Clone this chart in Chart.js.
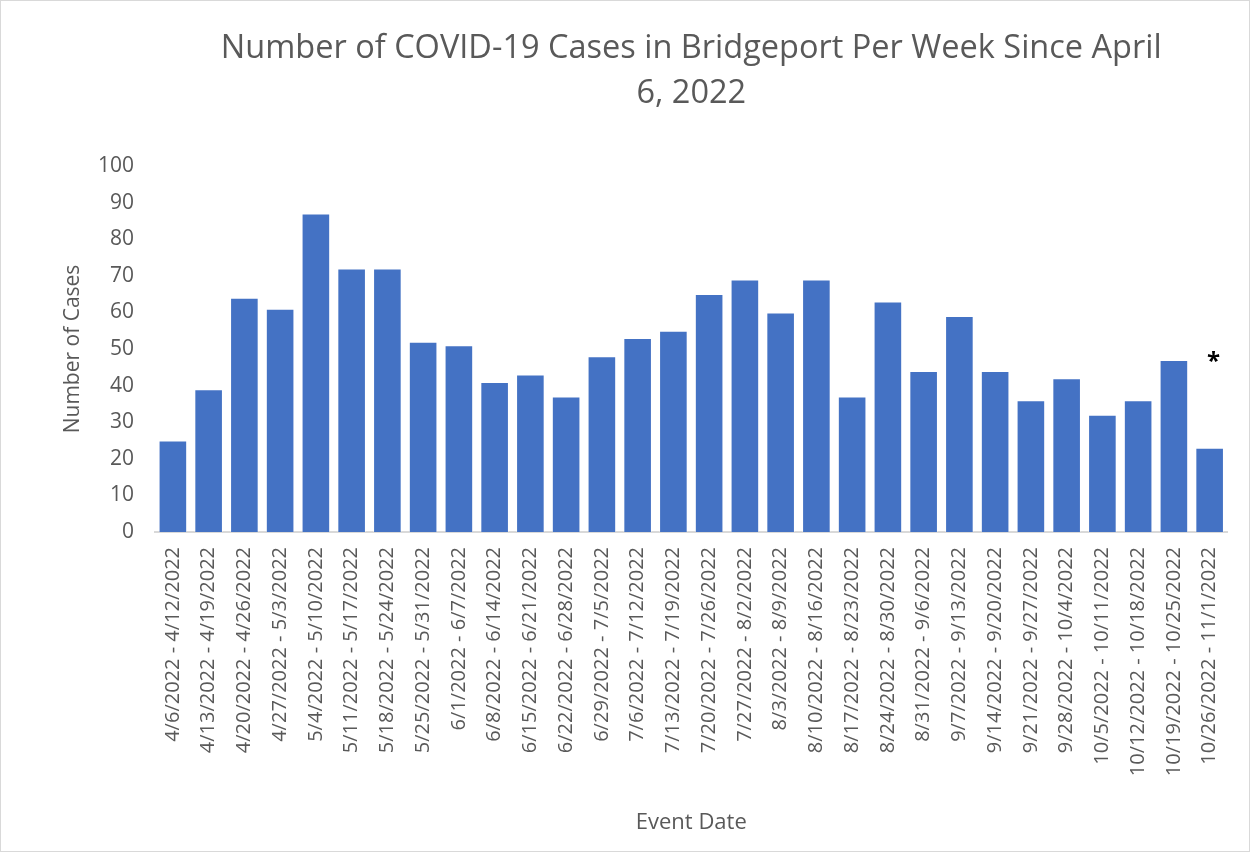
<!DOCTYPE html>
<html>
<head>
<meta charset="utf-8">
<script src="https://cdn.jsdelivr.net/npm/chart.js@4/dist/chart.umd.min.js"></script>
<style>
  html, body { margin: 0; padding: 0; background: #ffffff; }
  #wrap { width: 1250px; height: 852px; box-sizing: border-box; border: 1px solid #d9d9d9; background: #fff; }
  #wrap canvas { display: block; }
</style>
</head>
<body>
<div id="wrap"><canvas id="c" width="1248" height="850"></canvas></div>
<script>
const chartTitle = ["Number of COVID-19 Cases in Bridgeport Per Week Since April", "6, 2022"];
const xAxisTitle = "Event Date";
const yAxisTitle = "Number of Cases";

const weeks = [
  "4/6/2022 - 4/12/2022", "4/13/2022 - 4/19/2022", "4/20/2022 - 4/26/2022", "4/27/2022 - 5/3/2022",
  "5/4/2022 - 5/10/2022", "5/11/2022 - 5/17/2022", "5/18/2022 - 5/24/2022", "5/25/2022 - 5/31/2022",
  "6/1/2022 - 6/7/2022", "6/8/2022 - 6/14/2022", "6/15/2022 - 6/21/2022", "6/22/2022 - 6/28/2022",
  "6/29/2022 - 7/5/2022", "7/6/2022 - 7/12/2022", "7/13/2022 - 7/19/2022", "7/20/2022 - 7/26/2022",
  "7/27/2022 - 8/2/2022", "8/3/2022 - 8/9/2022", "8/10/2022 - 8/16/2022", "8/17/2022 - 8/23/2022",
  "8/24/2022 - 8/30/2022", "8/31/2022 - 9/6/2022", "9/7/2022 - 9/13/2022", "9/14/2022 - 9/20/2022",
  "9/21/2022 - 9/27/2022", "9/28/2022 - 10/4/2022", "10/5/2022 - 10/11/2022", "10/12/2022 - 10/18/2022",
  "10/19/2022 - 10/25/2022", "10/26/2022 - 11/1/2022"
];

const cases = [
  25, 39, 64, 61, 87, 72, 72, 52, 51, 41,
  43, 37, 48, 53, 55, 65, 69, 60, 69, 37,
  63, 44, 59, 44, 36, 42, 32, 36, 47, 23
];

// footnote marker shown above the last (incomplete) week
const noteMarks = ["", "", "", "", "", "", "", "", "", "", "", "", "", "", "", "", "", "", "", "", "", "", "", "", "", "", "", "", "", "*"];
const noteLevel = 48;

const yMin = 0;
const yMax = 100;
const yStep = 10;

const TEXT = "#595959";
const FONT = "'Open Sans', 'DejaVu Sans', sans-serif";

const notePlugin = {
  id: "noteMarks",
  afterDatasetsDraw(chart) {
    const ctx = chart.ctx;
    const meta = chart.getDatasetMeta(0);
    const y = chart.scales.y.getPixelForValue(noteLevel);
    ctx.save();
    ctx.fillStyle = "#000000";
    ctx.font = "bold 24px " + FONT;
    ctx.textAlign = "center";
    ctx.textBaseline = "alphabetic";
    noteMarks.forEach((m, i) => {
      if (!m) return;
      const mm = ctx.measureText(m);
      const off = (mm.actualBoundingBoxAscent - mm.actualBoundingBoxDescent) / 2;
      ctx.fillText(m, meta.data[i].x + 4, y + off);
    });
    ctx.restore();
  }
};

new Chart(document.getElementById("c"), {
  type: "bar",
  data: {
    labels: weeks,
    datasets: [{
      data: cases,
      backgroundColor: "#4472c4",
      borderColor: "rgba(255,255,255,0.35)",
      borderWidth: 1,
      categoryPercentage: 1.0,
      barPercentage: 0.8
    }]
  },
  options: {
    responsive: false,
    animation: false,
    events: [],
    layout: { padding: { left: 0, right: 18, top: 0, bottom: 0 } },
    plugins: {
      legend: { display: false },
      tooltip: { enabled: false },
      title: {
        display: true,
        text: chartTitle,
        fullSize: false,
        color: TEXT,
        font: { family: FONT, size: 32.5, weight: "normal", lineHeight: 1.384 },
        padding: { top: 25, bottom: 50 }
      }
    },
    scales: {
      x: {
        grid: { display: false, drawTicks: false },
        border: { display: true, color: "#d9d9d9", width: 2 },
        ticks: {
          autoSkip: false,
          minRotation: 90,
          maxRotation: 90,
          padding: 15,
          color: TEXT,
          font: { family: FONT, size: 20 }
        },
        title: {
          display: true,
          text: xAxisTitle,
          color: TEXT,
          font: { family: FONT, size: 22 },
          padding: { top: 0, bottom: 15 }
        },
        afterFit(scale) { scale.height = 319; }
      },
      y: {
        min: yMin,
        max: yMax,
        grid: { display: false, drawTicks: false },
        border: { display: false },
        ticks: {
          stepSize: yStep,
          padding: 21,
          color: TEXT,
          font: { family: FONT, size: 21 }
        },
        title: {
          display: true,
          text: yAxisTitle,
          color: TEXT,
          font: { family: FONT, size: 21 },
          padding: { top: 59, bottom: 0 }
        },
        afterFit(scale) { scale.width = 154; }
      }
    }
  },
  plugins: [notePlugin]
});
</script>
</body>
</html>
